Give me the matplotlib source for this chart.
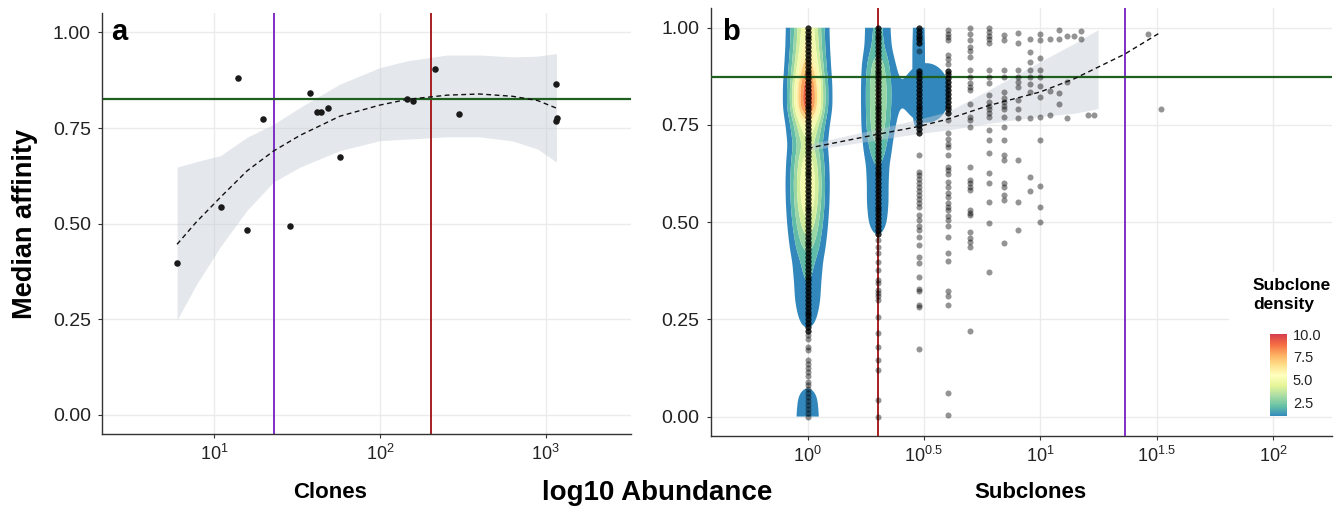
import numpy as np
import matplotlib
matplotlib.use("Agg")
import matplotlib.pyplot as plt
from matplotlib.colors import LinearSegmentedColormap, Normalize
from matplotlib.cm import ScalarMappable
from matplotlib.patches import Rectangle
from matplotlib.ticker import FixedLocator, FixedFormatter, NullLocator

plt.rcParams['font.family'] = ['Liberation Sans', 'DejaVu Sans']
plt.rcParams['mathtext.fontset'] = 'custom'
plt.rcParams['mathtext.rm'] = 'Liberation Sans'
plt.rcParams['mathtext.it'] = 'Liberation Sans:italic'
plt.rcParams['mathtext.bf'] = 'Liberation Sans:bold'

# ---------------- panel a : clones ----------------
clone_abundance = [6.0, 11.0, 13.9, 15.9, 19.9, 28.8, 37.8, 42.1, 44.1, 48.8, 57.5,
                   146.6, 159.0, 216.0, 300.6, 1159.0, 1152.0, 1165.0]
clone_affinity = [0.396, 0.543, 0.881, 0.484, 0.773, 0.494, 0.841, 0.793, 0.793, 0.803, 0.674,
                  0.827, 0.820, 0.905, 0.788, 0.865, 0.769, 0.776]
clone_fit_x = [6.0, 7.83, 10.96, 15.85, 22.9, 33.1, 57.5, 100.0, 146.6, 254.7, 398.0, 631.0, 891.0, 1159.0]
clone_fit_y = [0.446, 0.504, 0.569, 0.638, 0.690, 0.731, 0.781, 0.810, 0.825, 0.836, 0.839, 0.833, 0.822, 0.802]
clone_fit_hi = [0.648, 0.662, 0.678, 0.726, 0.760, 0.804, 0.865, 0.908, 0.926, 0.941, 0.941, 0.936, 0.938, 0.945]
clone_fit_lo = [0.248, 0.340, 0.440, 0.535, 0.609, 0.648, 0.691, 0.717, 0.721, 0.727, 0.727, 0.716, 0.695, 0.661]
clone_purple = 22.9
clone_red = 202.0
clone_green = 0.826

# ---------------- panel b : subclones ----------------
# affinities per abundance value (solid runs of overlapping subclones are the *_dense lists)
n1_dense = [1.00, 0.99, 0.98, 0.97, 0.96, 0.95, 0.94, 0.93, 0.92, 0.91, 0.90, 0.89, 0.88, 0.87,
            0.86, 0.85, 0.84, 0.83, 0.82, 0.81, 0.80, 0.79, 0.78, 0.77, 0.76, 0.75, 0.74, 0.73,
            0.72, 0.71, 0.70, 0.69, 0.68, 0.67, 0.66, 0.65, 0.64, 0.63, 0.62, 0.61, 0.60, 0.59,
            0.58, 0.57, 0.56, 0.55, 0.54, 0.53, 0.52, 0.51, 0.50, 0.49, 0.48, 0.47, 0.46, 0.45,
            0.44, 0.43, 0.42, 0.41, 0.40, 0.39, 0.38, 0.37, 0.36, 0.35, 0.34, 0.33, 0.32, 0.31,
            0.30, 0.29, 0.28, 0.27, 0.26, 0.25, 0.24, 0.23, 0.22]
n1_sparse = [0.21, 0.20, 0.18, 0.17, 0.145, 0.135, 0.125, 0.115, 0.105, 0.09, 0.08, 0.07,
             0.06, 0.05, 0.04, 0.03, 0.02, 0.01, 0.00]
n2_dense = [1.00, 0.99, 0.98, 0.97, 0.96, 0.95, 0.94, 0.93, 0.92, 0.91, 0.90, 0.89, 0.88, 0.87,
            0.86, 0.85, 0.84, 0.83, 0.82, 0.81, 0.80, 0.79, 0.78, 0.77, 0.76, 0.75, 0.74, 0.73,
            0.72, 0.71, 0.70, 0.69, 0.68, 0.67, 0.66, 0.65, 0.64, 0.63, 0.62, 0.61, 0.60, 0.59,
            0.58, 0.57, 0.56, 0.55, 0.54, 0.53, 0.52, 0.51, 0.50, 0.49, 0.48, 0.47]
n2_sparse = [0.454, 0.437, 0.42, 0.398, 0.377, 0.35, 0.343, 0.326, 0.318, 0.31, 0.30, 0.257,
             0.214, 0.18, 0.146, 0.12, 0.043, 0.0]
n3_dense = [1.00, 0.99, 0.98, 0.97, 0.96, 0.89, 0.88, 0.87, 0.86, 0.85, 0.84, 0.83, 0.82, 0.81,
            0.80, 0.79, 0.78, 0.77, 0.76, 0.75, 0.74, 0.73]
n3_sparse = [0.94, 0.673, 0.63, 0.62, 0.61, 0.60, 0.59, 0.58, 0.57, 0.56, 0.55, 0.54, 0.518,
             0.505, 0.49, 0.48, 0.463, 0.441, 0.411, 0.396, 0.358, 0.327, 0.323, 0.288, 0.283, 0.173]
n4_dense = [0.89, 0.88, 0.87, 0.86, 0.85, 0.84, 0.83, 0.82, 0.81, 0.80, 0.79, 0.78]
n4_sparse = [0.994, 0.985, 0.975, 0.968, 0.93, 0.92, 0.908, 0.763, 0.729, 0.715, 0.70, 0.694,
             0.673, 0.643, 0.634, 0.625, 0.604, 0.591, 0.574, 0.565, 0.55, 0.54, 0.53, 0.515,
             0.506, 0.49, 0.463, 0.42, 0.40, 0.323, 0.311, 0.287, 0.06, 0.003]
n5_aff = [0.999, 0.985, 0.968, 0.951, 0.94, 0.925, 0.891, 0.874, 0.857, 0.848, 0.84, 0.805,
          0.771, 0.763, 0.746, 0.643, 0.609, 0.60, 0.59, 0.583, 0.531, 0.523, 0.518, 0.475,
          0.46, 0.45, 0.437, 0.221]
n6_aff = [0.999, 0.99, 0.98, 0.97, 0.96, 0.891, 0.874, 0.857, 0.827, 0.81, 0.80, 0.79, 0.78,
          0.771, 0.737, 0.712, 0.677, 0.626, 0.60, 0.553, 0.497, 0.371]
n7_aff = [0.981, 0.968, 0.891, 0.874, 0.835, 0.82, 0.81, 0.80, 0.79, 0.771, 0.746, 0.712,
          0.673, 0.66, 0.60, 0.59, 0.57, 0.557, 0.446]
n8_aff = [0.987, 0.96, 0.891, 0.874, 0.86, 0.848, 0.814, 0.792, 0.769, 0.66, 0.551, 0.48]
n9_aff = [0.972, 0.938, 0.913, 0.891, 0.874, 0.855, 0.835, 0.769, 0.617, 0.581]
n10_aff = [0.985, 0.968, 0.921, 0.891, 0.874, 0.85, 0.822, 0.771, 0.712, 0.594, 0.539, 0.50]
rare_abundance = [11, 11, 11, 12, 12, 12, 12, 13, 13, 13, 14, 15, 15, 16, 17, 29, 33]
rare_affinity = [0.971, 0.837, 0.776, 0.994, 0.971, 0.831, 0.803, 0.979, 0.861, 0.768, 0.979,
                 0.992, 0.971, 0.776, 0.776, 0.985, 0.790]
dense_overlap = 3   # estimated number of subclones stacked at each value of a solid run

sub_fit_x = [1, 2, 3, 4, 6, 10, 14, 23, 33]
sub_fit_y = [0.690, 0.726, 0.746, 0.765, 0.800, 0.835, 0.869, 0.932, 0.989]
sub_band_x = [1, 2, 3, 4, 6, 10, 14, 17.7]
sub_band_hi = [0.700, 0.740, 0.765, 0.784, 0.840, 0.913, 0.960, 0.995]
sub_band_lo = [0.684, 0.712, 0.728, 0.737, 0.754, 0.772, 0.780, 0.792]
sub_red = 2.0
sub_purple = 23.2
sub_green = 0.873

dens_y = [0.00, 0.05, 0.10, 0.15, 0.20, 0.25, 0.30, 0.35, 0.40, 0.45, 0.50,
          0.55, 0.60, 0.65, 0.70, 0.75, 0.80, 0.85, 0.90, 0.95, 1.00]
dens_at1 = [1.6, 1.4, 0.5, 0.4, 0.6, 1.3, 1.8, 2.0, 2.4, 3.6, 4.8,
            5.8, 6.2, 5.6, 4.4, 6.0, 9.8, 9.6, 7.6, 6.3, 5.8]
dens_at2 = [0, 0, 0, 0, 0, 0, 0, 0, 0, 0.7, 1.5,
            1.8, 1.8, 2.0, 3.0, 3.8, 4.0, 4.0, 3.6, 2.4, 2.2]
dens_at3 = [0, 0, 0, 0, 0, 0, 0, 0, 0, 0, 0,
            0, 0, 0, 0, 1.3, 1.5, 1.5, 1.5, 1.5, 1.4]
blob_y = [0.00, 0.70, 0.72, 0.75, 0.78, 0.80, 0.82, 0.84, 0.86, 0.88, 0.90, 0.92, 0.95, 1.00]
blob_dens = [0.0, 0.0, 0.3, 0.9, 1.45, 1.75, 1.9, 1.9, 1.75, 1.5, 1.15, 0.8, 0.4, 0.1]
dens_levels = [1, 2, 3, 4, 5, 6, 7, 8, 9, 10, 11]
cbar_ticks = [2.5, 5.0, 7.5, 10.0]
cbar_labels = ['2.5', '5.0', '7.5', '10.0']

# ---------------- figure ----------------
W, H = 1344, 509
fig = plt.figure(figsize=(W / 100, H / 100), dpi=100)
fig.patch.set_facecolor('white')

def fx(px):
    return px / W

def fy(py):
    return 1 - py / H

axa = fig.add_axes([fx(102), fy(434), (631.3 - 102) / W, (434 - 13.3) / H])
axb = fig.add_axes([fx(710.6), fy(436), (1331.6 - 710.6) / W, (436 - 8.3) / H])

grid_c = '#EBEBEB'
axis_c = '#333333'
yt = [0.0, 0.25, 0.5, 0.75, 1.0]
for ax in (axa, axb):
    ax.set_facecolor('white')
    for s in ('top', 'right'):
        ax.spines[s].set_visible(False)
    for s in ('left', 'bottom'):
        ax.spines[s].set_color(axis_c)
        ax.spines[s].set_linewidth(1.0)
    ax.set_xscale('log')
    ax.set_ylim(-0.05, 1.05)
    ax.yaxis.set_major_locator(FixedLocator(yt))
    ax.yaxis.set_major_formatter(FixedFormatter(['%.2f' % v for v in yt]))
    ax.xaxis.set_minor_locator(NullLocator())
    ax.grid(True, which='major', color=grid_c, lw=1.0, zorder=0)
    ax.set_axisbelow(True)
    ax.tick_params(axis='both', direction='out', length=3, width=0.8, color=axis_c)
    ax.tick_params(axis='y', labelsize=14, pad=5, labelcolor='#222222')
    ax.tick_params(axis='x', labelsize=13, pad=4, labelcolor='#222222')

# ----- panel a -----
axa.set_xlim(10 ** 0.326, 10 ** 3.515)
axa.xaxis.set_major_locator(FixedLocator([10, 100, 1000]))
axa.xaxis.set_major_formatter(FixedFormatter([r'$10^{1}$', r'$10^{2}$', r'$10^{3}$']))
axa.fill_between(clone_fit_x, clone_fit_lo, clone_fit_hi, color='#C5CDD5', alpha=0.45, lw=0, zorder=1)
axa.axvline(clone_purple, color='#7E2FC4', lw=1.4, zorder=2)
axa.axvline(clone_red, color='#A82020', lw=1.4, zorder=2)
axa.axhline(clone_green, color='#1F5F1F', lw=1.6, zorder=2)
axa.plot(clone_fit_x, clone_fit_y, color='#111111', lw=1.0, ls=(0, (3.5, 2.5)), zorder=4)
axa.scatter(clone_abundance, clone_affinity, s=22, color='#1a1a1a', lw=0, zorder=5)

# ----- panel b -----
axb.set_xlim(10 ** -0.417, 10 ** 2.251)
bt = [1, 10 ** 0.5, 10, 10 ** 1.5, 100]
axb.xaxis.set_major_locator(FixedLocator(bt))
axb.xaxis.set_major_formatter(FixedFormatter([r'$10^{0}$', r'$10^{0.5}$', r'$10^{1}$',
                                               r'$10^{1.5}$', r'$10^{2}$']))

spectral = ['#3288BD', '#66C2A5', '#ABDDA4', '#E6F598', '#FFFFBF',
            '#FEE08B', '#FDAE61', '#F46D43', '#D53E4F']
cmap = LinearSegmentedColormap.from_list('spec', spectral)
norm = Normalize(1, 10)

# density field built from the column profiles
yy = np.linspace(0, 1, 401)
uu = np.linspace(-0.35, 1.0, 540)
ker = np.exp(-0.5 * (np.arange(-15, 16) / 5.0) ** 2)
ker /= ker.sum()


def column(py, prof, centre, h):
    p = np.interp(yy, py, prof)
    p = np.convolve(np.pad(p, 15, mode='edge'), ker, mode='valid')
    return p[:, None] * np.exp(-0.5 * ((uu[None, :] - np.log10(centre)) / h) ** 2)


field = (column(dens_y, dens_at1, 1.0, 0.050) + column(dens_y, dens_at2, 2.0, 0.043)
         + np.maximum(column(dens_y, dens_at3, 3.0, 0.030), column(blob_y, blob_dens, 3.24, 0.088)))
band_cols = [cmap(norm(min(L, 10))) for L in dens_levels[:-1]]
axb.contourf(10 ** uu, yy, field, levels=dens_levels, colors=band_cols, zorder=1, antialiased=True)

axb.fill_between(sub_band_x, sub_band_lo, sub_band_hi, color='#C5CDD5', alpha=0.45, lw=0, zorder=2)
axb.axvline(sub_red, color='#A82020', lw=1.4, zorder=3)
axb.axvline(sub_purple, color='#7E2FC4', lw=1.4, zorder=3)
axb.axhline(sub_green, color='#1F5F1F', lw=1.6, zorder=3)

xs, ys = [], []
for ab, dense, sparse in [(1, n1_dense, n1_sparse), (2, n2_dense, n2_sparse),
                          (3, n3_dense, n3_sparse), (4, n4_dense, n4_sparse)]:
    for v in dense:
        xs += [ab] * dense_overlap
        ys += [v] * dense_overlap
    xs += [ab] * len(sparse)
    ys += list(sparse)
for ab, vals in [(5, n5_aff), (6, n6_aff), (7, n7_aff), (8, n8_aff), (9, n9_aff), (10, n10_aff)]:
    xs += [ab] * len(vals)
    ys += list(vals)
xs += rare_abundance
ys += rare_affinity
axb.scatter(xs, ys, s=19, color='black', alpha=0.42, lw=0, zorder=4)
axb.plot(sub_fit_x, sub_fit_y, color='#111111', lw=1.0, ls=(0, (3.5, 2.5)), zorder=5)

# legend background + colourbar
fig.patches.append(Rectangle((fx(1229), fy(412)), (W - 1229) / W, (412 - 272) / H,
                             transform=fig.transFigure, facecolor='white', edgecolor='none', zorder=1))
cax = fig.add_axes([fx(1270), fy(416.4), 17.3 / W, (416.4 - 334) / H])
cax.set_zorder(2)
cb = fig.colorbar(ScalarMappable(norm=norm, cmap=cmap), cax=cax)
cb.outline.set_visible(False)
cb.set_ticks(cbar_ticks)
cb.set_ticklabels(cbar_labels)
cax.tick_params(length=0, labelsize=10.5, pad=4, labelcolor='#222222')
fig.text(fx(1253), fy(278), 'Subclone\ndensity', fontsize=12.5, fontweight='bold',
         ha='left', va='top', linespacing=1.35, zorder=3)

# titles / labels
fig.text(fx(25), fy(224), 'Median affinity', rotation=90, fontsize=19.5, fontweight='bold',
         ha='center', va='center')
fig.text(fx(330), fy(493), 'Clones', fontsize=16, fontweight='bold', ha='center', va='center')
fig.text(fx(657), fy(493), 'log10 Abundance', fontsize=20, fontweight='bold', ha='center', va='center')
fig.text(fx(1030), fy(493), 'Subclones', fontsize=16, fontweight='bold', ha='center', va='center')
fig.text(fx(111), fy(40), 'a', fontsize=21, fontweight='bold', ha='left', va='baseline')
fig.text(fx(722), fy(40), 'b', fontsize=21, fontweight='bold', ha='left', va='baseline')

fig.savefig('out.png', dpi=100, facecolor='white')
